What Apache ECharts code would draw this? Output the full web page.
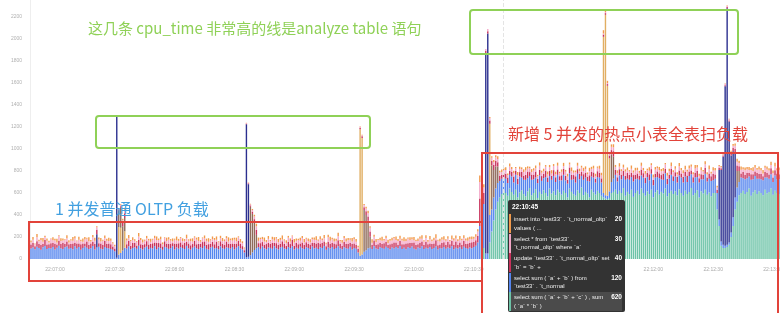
<!DOCTYPE html>
<html>
<head>
<meta charset="utf-8">
<script src="https://cdn.jsdelivr.net/npm/echarts@6/dist/echarts.min.js"></script>
<style>
html, body { margin: 0; padding: 0; overflow: hidden; background: #fff; }
#chart { width: 780px; height: 313px; }
</style>
</head>
<body>
<div id="chart"></div>
<script>
// Time axis: one bar per second
const startTime = '22:06:48';
const secondCount = 376;
const loadStart = 226; // index where the 5-concurrency hot table scan begins
const tooltipIndex = 237; // 22:10:45

// SQL digests (series names), \n marks where the tooltip wraps them
const insertName = 'insert into `test33` . `t_normal_oltp`\nvalues ( ...';
const selectStarName = 'select * from `test33` .\n`t_normal_oltp` where `a`';
const updateName = 'update `test33` . `t_normal_oltp` set\n`b` = `b` +';
const sumAbName = 'select sum ( `a` + `b` ) from\n`test33` . `t_normal';
const sumAbcName = 'select sum ( `a` + `b` + `c` ) , sum\n( `a` * `b` )';
const analyzeOltpName = 'analyze table `test33` . `t_normal_oltp`';
const analyzeHotName = 'analyze table `test33` . `t_hot_small`';
const othersName = 'Others';

// cpu_time per second, bottom of stack first
const sumAbcLoad = [
  0,100,0,0,150,250,350,450,520,560,590,620,600,575,640,610,585,630,560,605,
  625,590,570,615,645,580,600,635,555,610,590,625,600,570,640,595,615,580,630,605,
  585,620,600,560,640,610,590,575,625,600,650,580,610,595,560,630,605,585,620,600,
  575,560,550,545,555,600,610,630,590,620,600,645,575,610,590,630,565,600,620,585,
  640,600,575,615,590,630,560,605,625,585,610,595,640,570,600,620,590,615,580,635,
  600,575,620,590,610,645,580,600,625,560,615,595,630,585,605,570,600,600,450,300,
  120,100,100,110,130,200,300,450,520,580,600,620,590,610,640,575,605,625,590,615,
  600,580,630,595,610,640,585,620,600,590
];
const sumAbData = [
  96,104,88,112,99,85,107,118,92,101,95,110,87,103,121,98,90,106,114,93,
  100,89,117,95,108,84,99,113,102,91,97,119,86,105,111,94,88,109,101,96,
  92,83,70,12,40,55,78,102,95,115,88,99,107,93,120,97,86,104,112,90,
  101,95,117,89,106,98,84,110,103,92,99,116,87,105,94,108,100,91,119,96,
  85,102,113,97,90,107,99,118,93,86,104,111,95,100,89,115,98,92,106,101,
  94,109,87,103,117,96,88,60,15,20,35,60,82,99,108,92,114,97,89,105,
  101,93,116,98,87,104,110,95,91,108,99,117,86,103,94,112,97,90,106,100,
  88,113,96,102,91,107,99,118,85,104,95,109,92,101,116,97,89,106,98,93,
  111,87,100,94,60,30,40,65,80,97,103,90,115,96,88,107,101,93,112,99,
  86,104,95,109,97,118,91,102,89,106,100,113,94,87,105,98,116,92,103,96,
  108,90,99,114,87,101,95,110,93,104,98,117,89,102,96,107,91,112,100,94,
  105,97,110,120,150,300,
  450,400,50,50,250,200,210,190,170,150,140,120,130,115,125,140,110,135,120,145,
  115,130,150,120,110,140,125,105,135,150,120,110,145,130,115,125,140,120,135,110,
  130,145,115,125,140,110,135,120,150,125,105,140,130,115,145,120,135,110,125,140,
  120,40,30,30,60,100,120,135,115,140,125,110,145,120,130,115,140,125,110,135,
  120,140,115,130,125,145,110,135,120,150,115,125,140,110,130,145,120,135,115,125,
  140,120,130,110,145,125,115,140,120,135,110,130,145,120,125,140,115,130,150,60,
  40,30,20,20,20,40,80,110,130,120,140,115,135,125,110,145,120,130,140,115,
  125,135,110,145,120,130,115,140,125,135
];
const updateData = [
  35,42,28,50,38,45,30,55,40,33,48,36,52,29,44,39,57,31,46,41,
  37,53,30,45,34,49,42,27,56,38,43,35,51,40,32,47,39,54,36,44,
  41,30,25,5,10,15,30,45,38,52,33,47,40,29,55,37,44,31,50,42,
  36,48,33,57,39,44,30,51,37,46,41,28,53,35,49,43,32,56,38,45,
  40,34,52,37,47,31,55,42,36,49,33,45,39,58,30,46,41,35,53,38,
  44,32,50,37,48,41,29,20,5,8,12,20,30,45,36,52,40,33,47,42,
  38,55,31,46,40,35,51,43,29,48,37,56,34,45,41,30,53,39,47,36,
  44,32,50,38,57,35,46,40,31,52,43,37,49,34,55,41,30,48,39,45,
  36,51,42,33,30,10,15,25,35,40,47,38,54,32,45,41,36,50,43,29,
  48,37,55,40,33,46,42,31,52,38,45,35,57,41,30,49,44,36,53,39,
  34,47,41,56,38,30,50,43,37,52,35,46,40,58,33,44,39,51,36,48,
  42,55,45,50,60,250,
  150,100,20,20,30,40,45,50,40,45,35,40,45,50,38,42,55,36,48,40,
  52,38,45,60,35,48,42,55,37,50,44,39,58,41,47,36,53,43,49,38,
  46,55,40,35,52,44,38,57,42,48,36,51,45,39,56,41,47,34,53,44,
  38,20,15,15,25,40,50,45,38,56,42,47,35,52,44,39,58,41,48,36,
  53,40,46,37,55,42,49,35,51,44,38,57,40,47,36,54,43,39,50,45,
  37,52,44,58,40,35,49,43,55,38,46,41,53,36,48,42,57,39,30,20,
  15,10,10,10,10,20,30,40,50,44,38,56,42,49,35,51,46,40,55,43,
  48,37,52,44,39,56,41,47,53,45
];
const selectStarData = [
  22,30,18,35,25,40,20,28,33,15,38,24,30,19,42,27,22,36,29,17,
  31,25,40,21,34,28,16,37,26,32,20,43,29,23,35,18,39,27,30,24,
  33,28,20,5,8,10,25,30,35,22,40,27,18,34,29,38,21,31,26,36,
  19,32,41,25,28,37,20,30,24,39,27,16,35,29,22,40,31,18,33,26,
  38,23,30,42,27,19,34,28,36,21,31,25,40,17,33,29,24,37,30,20,
  35,26,39,22,31,18,28,15,5,5,10,15,25,33,21,38,27,30,19,36,
  24,32,20,41,28,35,17,30,26,38,22,33,29,19,37,25,40,23,31,27,
  20,36,28,33,18,39,25,30,22,42,27,34,19,31,36,24,29,38,21,33,
  28,22,37,30,20,10,10,20,25,30,35,19,33,27,40,22,30,25,36,18,
  31,27,39,24,33,20,36,29,22,41,26,32,19,35,28,38,23,30,34,21,
  37,25,31,19,40,28,33,22,36,27,30,18,39,26,34,23,41,29,32,24,
  35,28,30,33,40,150,
  60,50,20,20,20,30,25,35,28,32,26,30,34,22,38,27,31,24,36,29,
  25,33,40,28,35,22,37,30,26,39,31,24,36,28,33,21,38,29,34,27,
  32,24,39,30,27,35,22,38,31,26,40,29,33,23,37,28,35,25,31,36,
  28,10,10,10,15,30,35,27,38,24,33,29,40,26,31,36,23,37,30,28,
  34,27,39,25,32,36,22,38,30,28,35,24,41,29,33,26,37,31,25,39,
  30,35,23,38,28,33,26,40,31,24,36,29,34,27,38,25,32,36,20,15,
  10,10,10,10,10,15,20,30,35,28,33,26,39,31,24,37,29,35,27,40,
  32,26,38,30,35,28,41,33,27,36
];
const insertData = [
  15,25,8,30,12,20,35,10,22,18,5,28,14,32,9,24,17,6,27,20,
  11,33,19,7,26,15,30,22,9,36,13,21,28,10,18,31,8,24,16,29,
  20,12,15,3,5,8,12,20,18,30,11,25,14,8,33,19,27,10,22,15,
  28,9,20,34,13,24,17,6,30,21,14,27,10,35,18,8,25,16,31,12,
  22,29,11,18,36,15,8,26,20,33,12,24,17,30,9,21,28,14,19,38,
  13,25,18,32,10,27,16,10,3,3,5,10,15,24,30,12,20,35,17,26,
  9,22,31,14,27,18,36,11,24,16,29,8,33,20,13,26,19,30,10,23,
  28,15,21,34,12,25,17,31,9,23,38,14,27,19,32,11,24,16,29,20,
  13,30,18,25,10,5,5,10,15,22,12,33,18,27,9,24,36,14,21,30,
  16,25,11,32,19,28,14,36,22,10,27,18,31,13,24,20,34,12,26,17,
  29,15,23,37,11,26,19,31,14,24,9,33,20,28,16,35,12,25,18,30,
  20,25,18,22,20,60,
  40,30,0,0,10,15,20,18,25,15,22,20,24,15,28,18,22,12,26,20,
  16,24,30,19,14,27,21,25,12,29,18,23,15,26,20,31,17,22,28,13,
  21,30,16,25,18,33,20,14,27,22,17,29,24,15,31,19,26,21,12,28,
  23,30,25,20,15,22,28,18,25,31,16,27,20,24,13,30,19,26,22,17,
  29,21,25,14,32,18,27,23,16,30,20,26,12,28,22,33,17,24,19,29,
  20,25,30,16,27,22,18,31,24,19,28,14,26,21,33,17,29,22,15,10,
  10,5,5,5,5,10,15,20,26,21,30,17,25,22,28,19,33,24,16,27,
  23,31,18,26,20,29,22,35,19,25
];

// analyze table spikes: [second index, cpu_time]
const analyzeOltpPoints = [[33,120],[43,1280],[108,1210],[109,660],[228,1820],[229,2000],[345,450],[346,650],[347,800],[348,1450],[349,2150],[350,1100],[351,700],[352,600],[353,400]];
const analyzeHotPoints = [[44,250],[45,230],[47,150],[165,1150],[166,1060],[230,830],[287,1420],[288,1640],[289,1000],[290,300]];
const othersPoints = [[44,150],[45,180],[46,220],[47,120],[110,440],[111,350],[112,250],[113,120],[167,380],[168,320],[169,250],[170,100],[231,400],[232,250],[233,200],[234,150],[291,250],[292,200],[354,150],[355,100]];

const yTicks = { min: 0, max: 2400, interval: 200 };

// build categories
const pad = n => String(n).padStart(2, '0');
const [h0, m0, s0] = startTime.split(':').map(Number);
const times = [];
for (let i = 0; i < secondCount; i++) {
    const t = h0 * 3600 + m0 * 60 + s0 + i;
    times.push(pad(Math.floor(t / 3600)) + ':' + pad(Math.floor(t / 60) % 60) + ':' + pad(t % 60));
}
function spread(points) {
    const arr = new Array(secondCount).fill(0);
    points.forEach(([i, v]) => { arr[i] = v; });
    return arr;
}
const sumAbcData = new Array(loadStart).fill(0).concat(sumAbcLoad);

const seriesDefs = [
    { name: sumAbcName, data: sumAbcData, color: '#6cc3a7' },
    { name: sumAbName, data: sumAbData, color: '#5585ee' },
    { name: analyzeOltpName, data: spread(analyzeOltpPoints), color: '#2b2f8f' },
    { name: analyzeHotName, data: spread(analyzeHotPoints), color: '#e1ae62' },
    { name: othersName, data: spread(othersPoints), color: '#8f6b5b' },
    { name: updateName, data: updateData, color: '#c8325c' },
    { name: selectStarName, data: selectStarData, color: '#f4a7c8' },
    { name: insertName, data: insertData, color: '#f29a4c' }
];

const green = '#8fd157';
const red = '#e2433a';
const cjkFont = '"Noto Sans CJK SC", "Noto Sans", sans-serif';

const chart = echarts.init(document.getElementById('chart'));
chart.setOption({
    animation: false,
    grid: { left: 30, right: 0, top: -5, bottom: 54, outerBoundsMode: 'none' },
    xAxis: {
        type: 'category',
        data: times,
        axisLine: { show: false },
        axisTick: { show: false },
        axisLabel: {
            fontSize: 5,
            color: '#aaa',
            margin: 8,
            interval: (idx, val) => val.endsWith(':00') || val.endsWith(':30')
        }
    },
    yAxis: {
        type: 'value',
        min: yTicks.min,
        max: yTicks.max,
        interval: yTicks.interval,
        splitLine: { show: false },
        axisLine: { show: true, lineStyle: { color: '#eee' } },
        axisTick: { show: false },
        axisLabel: { fontSize: 5, color: '#b0b0b0', margin: 8, showMaxLabel: false, formatter: v => String(v) }
    },
    tooltip: {
        trigger: 'axis',
        triggerOn: 'none',
        alwaysShowContent: true,
        position: [508, 200],
        transitionDuration: 0,
        backgroundColor: '#333',
        borderWidth: 0,
        padding: [2, 3, 0, 1],
        textStyle: { color: '#fff', fontSize: 6 },
        extraCssText: 'width:113px;border-radius:2px;box-shadow:none;font-family:"Liberation Sans",Arial,sans-serif;',
        axisPointer: { type: 'line', lineStyle: { color: '#e4e4e4', width: 1 } },
        formatter: params => {
            const rows = params.filter(p => p.value > 0).reverse().map(p => {
                const bg = p.seriesName === sumAbcName ? 'background:#4b4b4b;' : '';
                return '<div style="display:flex;align-items:flex-start;border-left:2px solid ' + p.color + ';padding:1px 0 1px 3px;margin-bottom:0.5px;' + bg + '">'
                    + '<span style="white-space:nowrap;line-height:8.5px;font-size:6px;color:#eee">' + p.seriesName.replace('\n', '<br>') + '</span>'
                    + '<b style="margin-left:auto;line-height:8.5px;font-size:6.5px">' + p.value + '</b></div>';
            }).join('');
            return '<div style="font-weight:bold;font-size:6.5px;line-height:9px;margin:0 0 3px 3px">' + params[0].axisValue + '</div>' + rows;
        }
    },
    series: seriesDefs.map(s => ({
        type: 'bar',
        name: s.name,
        stack: 'cpu',
        data: s.data,
        barCategoryGap: '30%',
        itemStyle: { color: s.color },
        emphasis: { disabled: true }
    })),
    graphic: [
        { type: 'text', x: 88, y: 28, z: 100, style: { text: '这几条 cpu_time 非常高的线是analyze table 语句', fill: green, font: '15px ' + cjkFont, verticalAlign: 'middle' } },
        { type: 'rect', z: 100, shape: { x: 96, y: 116, width: 274, height: 32, r: 3 }, style: { fill: 'none', stroke: green, lineWidth: 2 } },
        { type: 'rect', z: 100, shape: { x: 470, y: 10, width: 268, height: 44, r: 3 }, style: { fill: 'none', stroke: green, lineWidth: 2 } },
        { type: 'text', x: 508, y: 134, z: 100, style: { text: '新增 5 并发的热点小表全表扫负载', fill: red, font: '16px ' + cjkFont, verticalAlign: 'middle' } },
        { type: 'text', x: 55, y: 209, z: 100, style: { text: '1 并发普通 OLTP 负载', fill: '#42a0e0', font: '16px ' + cjkFont, verticalAlign: 'middle' } },
        { type: 'rect', z: 100, shape: { x: 29, y: 222, width: 453, height: 59 }, style: { fill: 'none', stroke: red, lineWidth: 2 } },
        { type: 'rect', z: 100, shape: { x: 482, y: 153, width: 296, height: 180 }, style: { fill: 'none', stroke: red, lineWidth: 2 } }
    ]
});
chart.dispatchAction({ type: 'showTip', seriesIndex: 0, dataIndex: tooltipIndex });
</script>
</body>
</html>
